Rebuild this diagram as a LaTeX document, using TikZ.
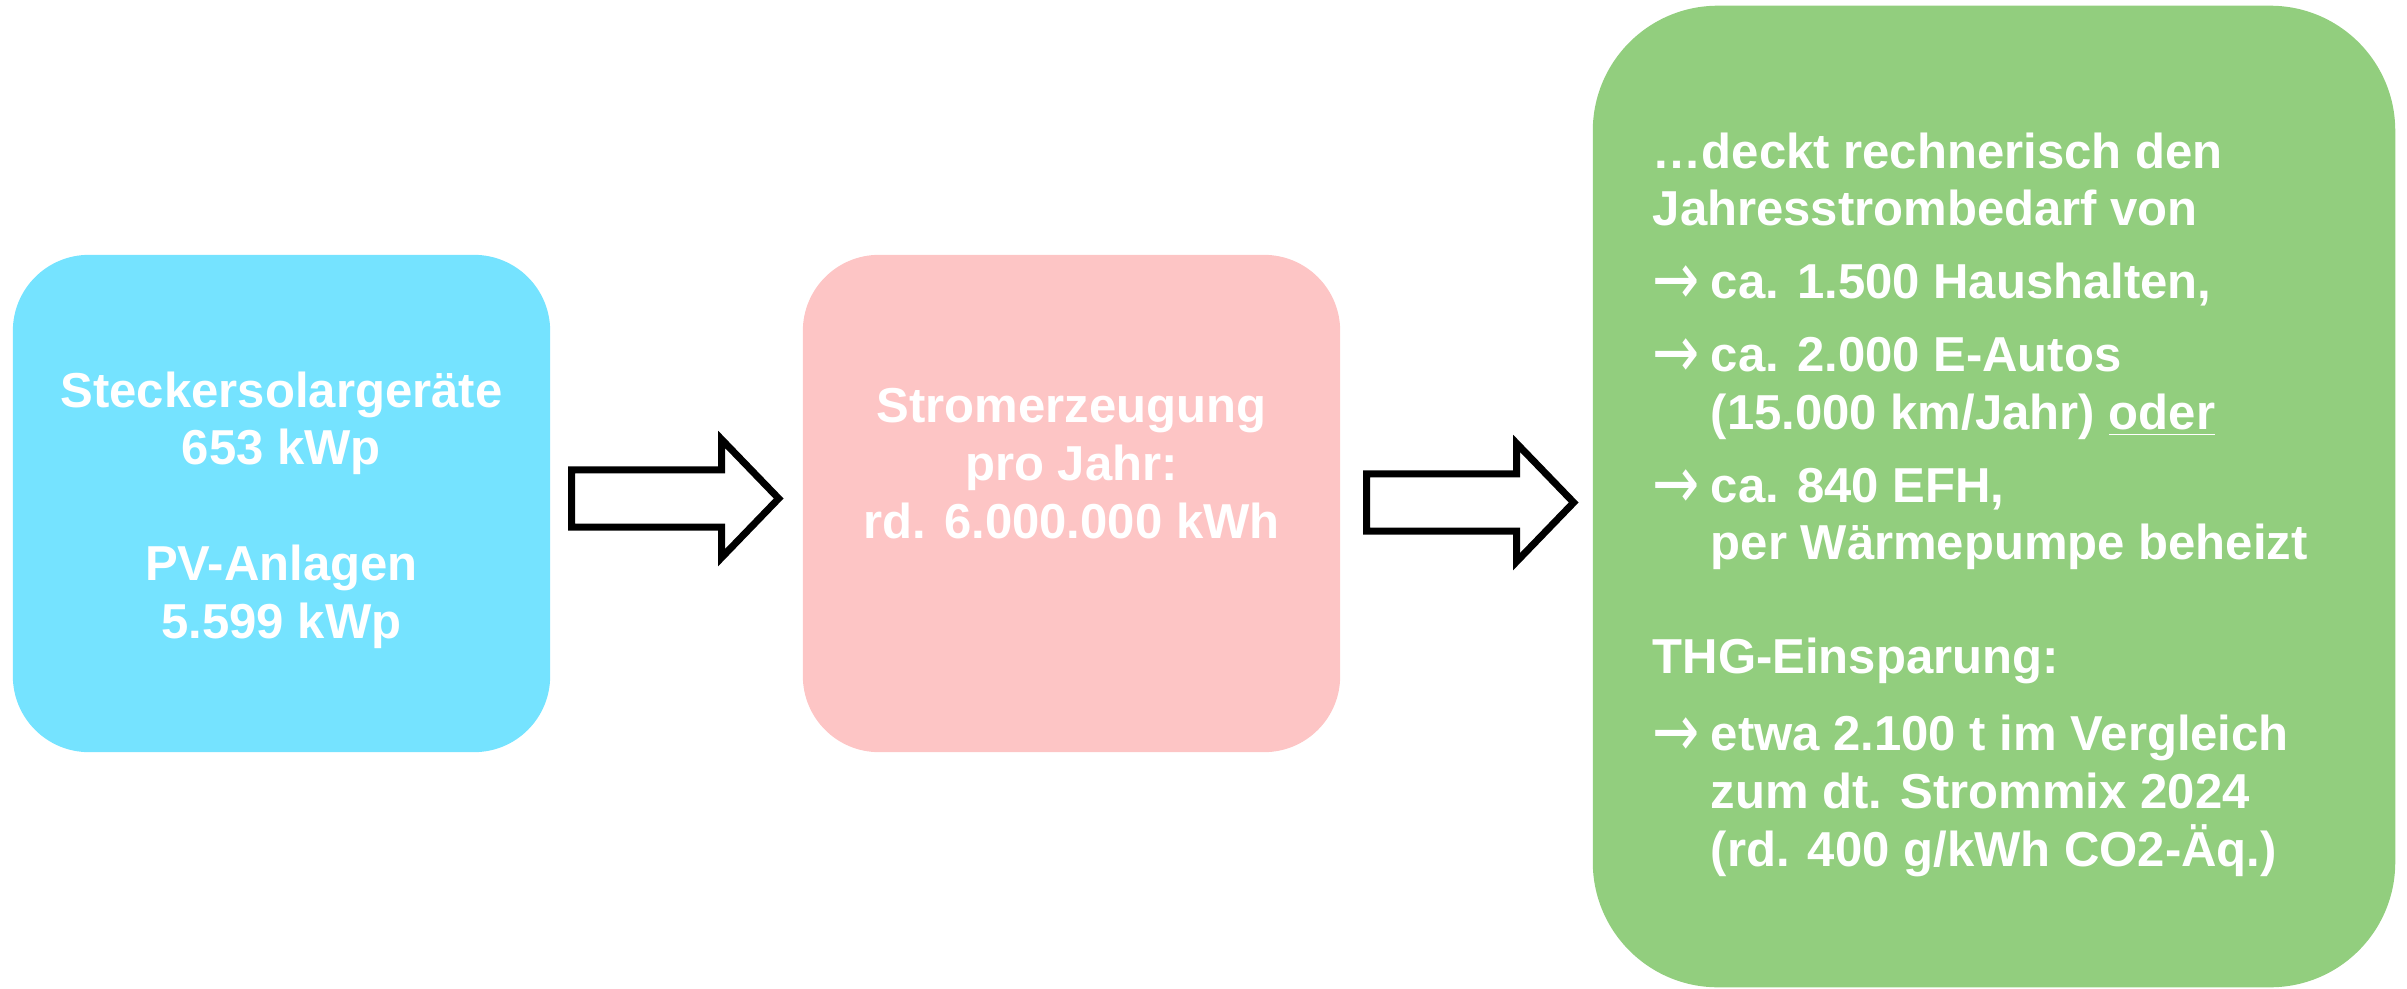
\documentclass[tikz,border=0pt]{standalone}
\usepackage{fontspec}
\setmainfont{Liberation Sans}
\newfontfamily\pfeilfont{DejaVu Sans}
\usepackage{tikz}
\usetikzlibrary{shapes.arrows}
\definecolor{solarblau}{HTML}{75E3FF}
\definecolor{lachs}{HTML}{FDC5C5}
\definecolor{gruen}{HTML}{92CE7E}
\newcommand{\pfeil}{\makebox[0.58cm][l]{\raisebox{-0.06cm}{\scalebox{1.15}[1.5]{\pfeilfont\mdseries →}}}}
\newcommand{\einr}{\hspace*{0.58cm}}

\begin{document}
\begin{tikzpicture}[x=0.01cm,y=-0.01cm,
	kasten/.style={rounded corners=0.76cm,inner sep=0pt,minimum width=5.37cm,minimum height=4.97cm},
	txt/.style={text=white,inner sep=0pt,font=\fontsize{13.95pt}{16.4pt}\selectfont\bfseries},
	blockpfeil/.style={single arrow,draw=black,fill=white,line width=2pt,inner xsep=0pt,inner ysep=0.25cm,
		minimum height=2.07cm,single arrow head extend=0.305cm,single arrow tip angle=92,anchor=west}]
	\useasboundingbox (0,0) rectangle (2407,988);
	% Kaesten
	\node[kasten,fill=solarblau] (anlagen) at (281.5,503.5) {};
	\node[kasten,fill=lachs] (erzeugung) at (1071.5,503.5) {};
	\node[kasten,fill=gruen,rounded corners=1.25cm,minimum width=8.02cm,minimum height=9.81cm] (bedarf) at (1994,496.5) {};
	% Pfeile
	\node[blockpfeil] (pfeilA) at (568,498.5) {};
	\node[blockpfeil] (pfeilB) at (1363,502.5) {};
	% Texte (Anker an der letzten Grundlinie)
	\node[txt,anchor=base,align=center] (anlagentext) at (281.5,638) {Steckersolargeräte\\653 kWp\\[16.4pt]PV-Anlagen\\5.599 kWp};
	\node[txt,anchor=base,align=center] (erzeugungtext) at (1071.5,538) {Stromerzeugung\\pro Jahr:\\rd. 6.000.000 kWh};
	\node[txt,anchor=base west,align=left] (bedarftext) at (1652,866) {…deckt rechnerisch den\\
		Jahresstrombedarf von\\[4.3pt]
		\pfeil ca. 1.500 Haushalten,\\[4.3pt]
		\pfeil ca. 2.000 E-Autos\\
		\einr (15.000 km/Jahr) \underline{oder}\\[4.3pt]
		\pfeil ca. 840 EFH,\\
		\einr per Wärmepumpe beheizt\\[16pt]
		THG-Einsparung:\\[5.5pt]
		\pfeil etwa 2.100 t im Vergleich\\
		\einr zum dt. Strommix 2024\\
		\einr (rd. 400 g/kWh CO2-Äq.)};
\end{tikzpicture}
\end{document}
